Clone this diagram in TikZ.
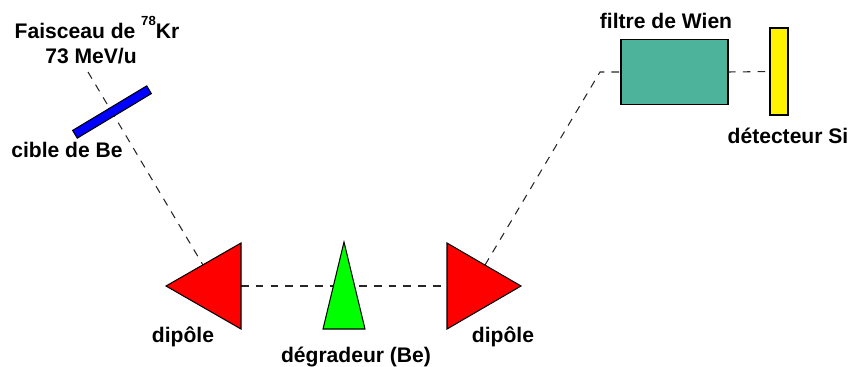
\documentclass[tikz,border=0pt]{standalone}
\usepackage{fontspec}
\setmainfont{Liberation Sans}
\definecolor{vertfiltre}{RGB}{78,179,155}
\newcommand{\isotope}[1]{\raisebox{7pt}{\fontsize{7.5}{8}\selectfont #1}}
\tikzset{
  lab/.style = {anchor=base, inner sep=0pt, font=\fontsize{12}{14}\selectfont\bfseries},
  faisceau/.style = {dash pattern=on 4.4pt off 4pt, line width=0.6pt, black!85},
  piece/.style = {draw=black, line width=0.6pt, line join=miter},
  boite/.style = {piece, inner sep=0pt, outer sep=0pt}
}
\begin{document}
\begin{tikzpicture}[x=0.02cm, y=-0.02cm]
  \useasboundingbox (0,0) rectangle (851,366);

  % Les points du faisceau
  \coordinate (entree) at (88,72);
  \coordinate (dipG) at (203,265);
  \coordinate (dipD) at (485,265);
  \coordinate (coude) at (600,72);
  \coordinate (milG) at (241,286);
  \coordinate (milD) at (447,286);

  % Les boites
  \node[boite, fill=vertfiltre, minimum width=2.14cm, minimum height=1.29cm] (filtre) at (674.5,72) {};
  \node[boite, fill=yellow, minimum width=0.36cm, minimum height=1.74cm] (detecteur) at (779,71.5) {};

  % Le faisceau
  \draw[faisceau] (entree) -- (dipG);
  \draw[faisceau] (milG) -- (milD);
  \draw[faisceau] (dipD) -- (coude) -- (filtre.west);
  \draw[faisceau] (filtre.east) -- (detecteur.west);

  % La cible
  \node[boite, fill=blue, rotate=31, minimum width=1.73cm, minimum height=0.18cm] (cible) at (112,112) {};

  % Les dipoles et le degradeur
  \draw[piece, fill=red] (166,286) -- (241,243) -- (241,329) -- cycle;
  \draw[piece, fill=red] (521,286) -- (447,243) -- (447,329) -- cycle;
  \draw[piece, fill=green] (344,242) -- (323,329) -- (365,329) -- cycle;

  % Les textes
  \node[lab] (tfaisceau) at (97,38) {Faisceau de \isotope{78}Kr};
  \node[lab] (tenergie) at (91,63) {73 MeV/u};
  \node[lab] (tcible) at (67,157) {cible de Be};
  \node[lab] (tdipG) at (183,342) {dipôle};
  \node[lab] (tdipD) at (503,342) {dipôle};
  \node[lab] (tdegradeur) at (356,362) {dégradeur (Be)};
  \node[lab] (tfiltre) at (666,28) {filtre de Wien};
  \node[lab] (tdetecteur) at (788,143) {détecteur Si};
\end{tikzpicture}
\end{document}
